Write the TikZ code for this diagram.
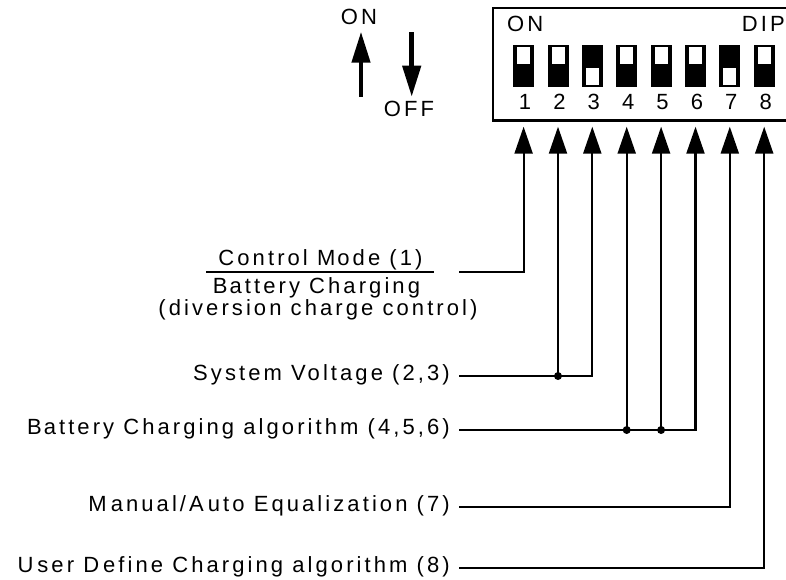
\documentclass[tikz,border=0pt]{standalone}
\usepackage{fontspec}
\setmainfont{Liberation Sans}[LetterSpace=14]
\usetikzlibrary{arrows.meta}
\begin{document}
\begin{tikzpicture}[x=1pt,y=-1pt,
  lbl/.style={font=\fontsize{22}{24}\selectfont, inner sep=0pt},
  conn/.style={line width=2.2pt},
  arr/.style={conn,-{Triangle[width=18pt,length=27pt]}},
  sw/.style={draw=none, fill=black, minimum width=21pt, minimum height=42pt, inner sep=0pt},
  win/.style={fill=white, minimum width=13pt, minimum height=16.5pt, inner sep=0pt},
  jdot/.style={circle, fill=black, inner sep=0pt, minimum size=8pt},
  bigarr/.style={line width=4.5pt,-{Triangle[width=18pt,length=31pt]}}
]
\useasboundingbox (0,0) rectangle (786,580);
% DIP housing
\node[draw, line width=2.2pt, anchor=north west, minimum width=310pt, minimum height=112.5pt, inner sep=0pt] (dip) at (492,7) {};
\node[lbl, anchor=base west] (don) at (507,32) {ON};
\node[lbl, anchor=base east] (dipl) at (785,32) {DIP};
% switches
\foreach \i/\x/\st in {1/523.6/u,2/558.0/u,3/592.3/d,4/626.7/u,5/661.1/u,6/695.5/u,7/729.8/d,8/764.2/u}{
  \node[sw] (s\i) at (\x,66) {};
  \if u\st
    \node[win] (w\i) at (\x,55.75) {};
  \else
    \node[win] (w\i) at (\x,76.75) {};
  \fi
  \node[lbl, anchor=base] (n\i) at (\x+1.5,110) {\i};
  \coordinate (t\i) at (\x,126.7);
}
% ON / OFF legend
\node[lbl, anchor=base] (on) at (359,25) {ON};
\coordinate (ua0) at (361,96.7);
\coordinate (ua1) at (361,31.7);
\draw[bigarr] (ua0) -- (ua1);
\coordinate (da0) at (411.7,32.3);
\coordinate (da1) at (411.7,96.7);
\draw[bigarr] (da0) -- (da1);
\node[lbl, anchor=base] (off) at (409,116.7) {OFF};
% labels
\node[lbl, anchor=base] (cm) at (320.5,265) {Control M\kern2pt ode (1)};
\draw[line width=2.2pt] (206,271.7) -- (434,271.7);
\node[lbl, anchor=base] (bc) at (316.5,293.5) {B\kern2pt attery Charging};
\node[lbl, anchor=base] (dc) at (318,315) {(diversion charge control)};
\node[lbl, anchor=base east] (sv) at (450,380.5) {System Voltage (2,3)};
\node[lbl, anchor=base east] (bca) at (450,434.5) {B\kern2pt attery Charging algorithm (4,5,6)};
\node[lbl, anchor=base east] (ma) at (450,511.5) {M\kern4pt anual/A\kern4pt uto Equalization (7)};
\node[lbl, anchor=base east] (ud) at (450,572.5) {U\kern4pt ser D\kern4pt efine Charging algorithm (8)};
% connector starts
\coordinate (p1) at (459,271.7);
\coordinate (p2) at (459,376);
\coordinate (p3) at (459,430);
\coordinate (p4) at (459,507);
\coordinate (p5) at (459,568);
% connectors
\draw[arr] (p1) -| (t1);
\draw[arr] (p2) -| (t3);
\node[jdot] (j2) at (t2 |- p2) {};
\draw[arr] (j2.center) -- (t2);
\draw[arr] (p3) -| (t6);
\node[jdot] (j4) at (t4 |- p3) {};
\draw[arr] (j4.center) -- (t4);
\node[jdot] (j5) at (t5 |- p3) {};
\draw[arr] (j5.center) -- (t5);
\draw[arr] (p4) -| (t7);
\draw[arr] (p5) -| (t8);
\end{tikzpicture}
\end{document}
